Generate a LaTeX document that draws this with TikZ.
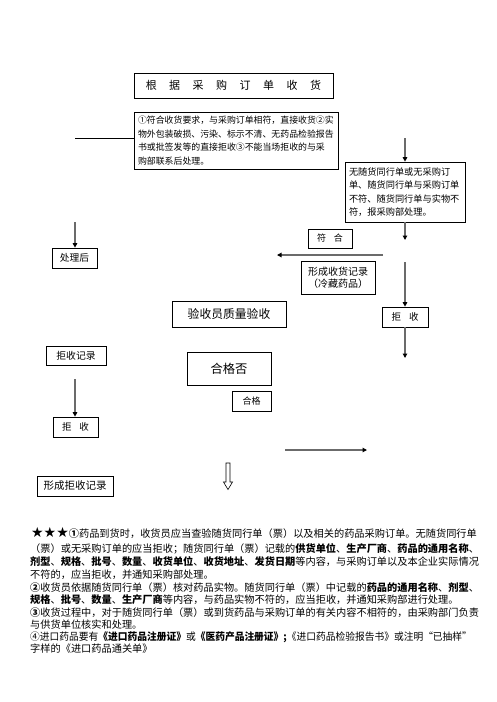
\documentclass[tikz,border=0pt]{standalone}
\usepackage{fontspec}
\setmainfont{Noto Sans CJK SC}
\newfontfamily\symfont{DejaVu Sans}
\usetikzlibrary{arrows.meta}
\begin{document}
\begin{tikzpicture}[x=1pt,y=-1pt,
  box/.style={draw=black, line width=0.7pt, inner sep=0pt, align=center},
  garr/.style={draw=black!58, line width=1.3pt, -{Triangle[length=4.5pt,width=4.5pt,color=black]}},
  bline/.style={draw=black, line width=0.8pt},
  fs/.style={font=\fontsize{#1}{#1}\selectfont},
  body/.style={anchor=base west, inner sep=0pt, font=\fontsize{10.2}{12}\selectfont}
]
\path[use as bounding box] (0,0) rectangle (496,702);

% top title
\node[box, minimum width=199pt, minimum height=25pt, fs=11] (title) at (233.5,85.5)
  {根\hspace{12.5pt}据\hspace{12.5pt}采\hspace{12.5pt}购\hspace{12.5pt}订\hspace{12.5pt}单\hspace{12.5pt}收\hspace{12.5pt}货};

% rules box
\node[box, minimum width=204pt, minimum height=57pt, text width=196pt, align=left,
      font=\fontsize{8.9}{13.5}\selectfont] (rules) at (236,140.5)
  {①符合收货要求，与采购订单相符，直接收货②实\\物外包装破损、污染、标示不清、无药品检验报告\\书或批签发等的直接拒收③不能当场拒收的与采\\购部联系后处理。};

% left branch
\coordinate (lA) at (75,138);
\draw[bline] (lA) -- (rules.west |- lA);
\coordinate (lB) at (75,222);
\node[box, minimum width=45pt, minimum height=20pt, fs=9.7] (after) at (74.5,258) {处理后};
\draw[garr] (lB) -- (after.north -| lB);

% right branch
\coordinate (rA) at (405,138);
\node[box, minimum width=120pt, minimum height=60pt, text width=112pt, align=left,
      font=\fontsize{9.2}{13.5}\selectfont] (none) at (405,192)
  {无随货同行单或无采购订\\单、随货同行单与采购订单\\不符、随货同行单与实物不\\符，报采购部处理。};
\draw[garr] (rA) -- (none.north);
\coordinate (rB) at (405,240);
\draw[garr] (none.south) -- (rB);

\node[box, minimum width=44pt, minimum height=19pt, fs=9] (fuhe) at (330,238.5) {符\hspace{8pt}合};
\coordinate (hA) at (383,255);
\coordinate (hB) at (277,255);
\draw[garr] (hA) -- (hB);
\node[box, minimum width=74pt, minimum height=33pt, font=\fontsize{10}{11.8}\selectfont] (rec) at (338,277.5)
  {形成收货记录\\（冷藏药品）};

\coordinate (rC) at (405,262);
\node[box, minimum width=46pt, minimum height=20pt, fs=9.5] (rej1) at (405,317) {拒\hspace{8pt}收};
\draw[garr] (rC) -- (rej1.north);
\coordinate (rD) at (405,358);
\draw[garr] (rej1.south) -- (rD);

% middle
\node[box, minimum width=114pt, minimum height=26pt, fs=11.8] (qc) at (229,314) {验收员质量验收};
\node[box, minimum width=84pt, minimum height=33pt, fs=12.3] (ok) at (229,368.5) {合格否};
\node[box, minimum width=39pt, minimum height=20pt, fs=9] (pass) at (251.5,401) {合格};

% left lower
\node[box, minimum width=60pt, minimum height=19pt, fs=9.8] (rejrec) at (76,355.5) {拒收记录};
\coordinate (lC) at (75,379);
\node[box, minimum width=45pt, minimum height=20pt, fs=9.5] (rej2) at (75.5,427) {拒\hspace{8pt}收};
\draw[garr] (lC) -- (rej2.north -| lC);
\node[box, minimum width=76pt, minimum height=20pt, fs=10.5] (rejform) at (75,486) {形成拒收记录};

% hollow arrow
\draw[line width=0.6pt, fill=white] (226,463) -- (230,463) -- (230,482) -- (232.5,482) -- (228,489.5) -- (223.5,482) -- (226,482) -- cycle;

% right arrow
\coordinate (bA) at (285,450);
\coordinate (bB) at (367,450);
\draw[garr] (bA) -- (bB);

% body text
\node[body] (t1) at (31,537) {{\symfont\fontsize{14}{14}\selectfont ★★★}\textbf{①}药品到货时，收货员应当查验随货同行单（票）以及相关的药品采购订单。无随货同行单};
\node[body] (t2) at (30,552) {（票）或无采购订单的应当拒收；随货同行单（票）记载的\textbf{供货单位}、\textbf{生产厂商}、\textbf{药品的通用名称}、};
\node[body] (t3) at (30,565) {\textbf{剂型}、\textbf{规格}、\textbf{批号}、\textbf{数量}、\textbf{收货单位}、\textbf{收货地址}、\textbf{发货日期}等内容，与采购订单以及本企业实际情况};
\node[body] (t4) at (30,578) {不符的，应当拒收，并通知采购部处理。};
\node[body] (t5) at (30,591) {\textbf{②}收货员依据随货同行单（票）核对药品实物。随货同行单（票）中记载的\textbf{药品的通用名称}、\textbf{剂型}、};
\node[body] (t6) at (30,603.5) {\textbf{规格}、\textbf{批号}、\textbf{数量}、\textbf{生产厂商}等内容，与药品实物不符的，应当拒收，并通知采购部进行处理。};
\node[body] (t7) at (30,616) {\textbf{③}收货过程中，对于随货同行单（票）或到货药品与采购订单的有关内容不相符的，由采购部门负责};
\node[body] (t8) at (30,628) {与供货单位核实和处理。};
\node[body] (t9) at (30,640) {\scalebox{0.955}[1]{④进口药品要有\textbf{《进口药品注册证》}或\textbf{《医药产品注册证》;}《进口药品检验报告书》或注明“已抽样”}};
\node[body] (t10) at (30,652) {字样的《进口药品通关单》};
\end{tikzpicture}
\end{document}
